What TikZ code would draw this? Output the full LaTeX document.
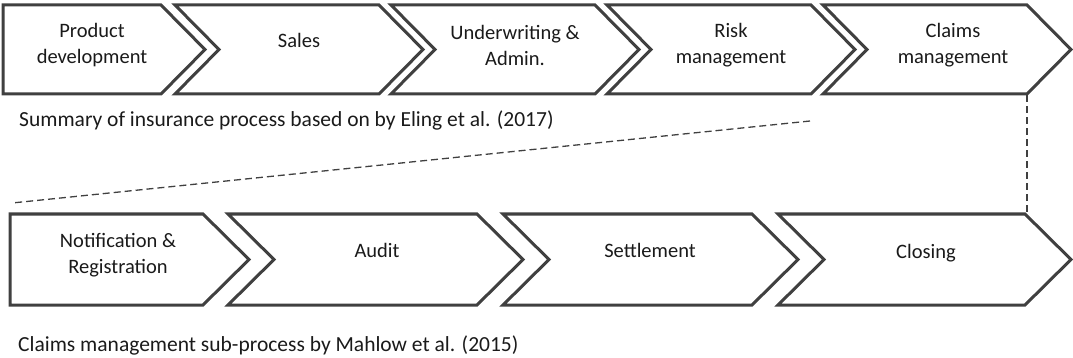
\documentclass[tikz,border=0pt]{standalone}
\usepackage{fontspec}
\setmainfont{Carlito}
\definecolor{edge}{HTML}{404040}
\definecolor{ink}{HTML}{1A1A1A}
\begin{document}
\begin{tikzpicture}[x=1pt,y=-1pt,
  chev/.style={draw=edge,line width=3pt,line join=miter,fill=white},
  lbl/.style={inner sep=0pt,align=center,text=ink,font=\fontsize{20.5}{26}\selectfont},
  captext/.style={inner sep=0pt,anchor=base west,text=ink,font=\fontsize{21.5}{26}\selectfont},
  link/.style={draw=edge,line width=1.3pt,dash pattern=on 7pt off 4pt}]
\useasboundingbox (0,0) rectangle (1073,358);

% ---- main insurance process (top row) ----
\draw[chev] (3,5) -- (161,5) -- (205,49.5) -- (161,94) -- (3,94) -- cycle;
\draw[chev] (175,5) -- (379,5) -- (423,49.5) -- (379,94) -- (175,94) -- (219,49.5) -- cycle;
\draw[chev] (391,5) -- (595,5) -- (639,49.5) -- (595,94) -- (391,94) -- (435,49.5) -- cycle;
\draw[chev] (607,5) -- (811,5) -- (855,49.5) -- (811,94) -- (607,94) -- (651,49.5) -- cycle;
\draw[chev] (823,5) -- (1027,5) -- (1071,49.5) -- (1027,94) -- (823,94) -- (867,49.5) -- cycle;

\node[lbl] (pd) at (92,45) {Product\\development};
\node[lbl,anchor=base] (sales) at (299,48) {Sales};
\node[lbl] (uw) at (515,45) {Underwriting \&\\Admin.};
\node[lbl] (risk) at (731,45) {Risk\\management};
\node[lbl] (claims) at (953,45) {Claims\\management};

\node[captext] (sum) at (19,127) {Summary of insurance process based on by Eling et al. (2017)};

% ---- claims management sub-process (bottom row) ----
\draw[chev] (10,214) -- (203,214) -- (249,259.5) -- (203,305) -- (10,305) -- cycle;
\draw[chev] (228,214) -- (477,214) -- (523,259.5) -- (477,305) -- (228,305) -- (274,259.5) -- cycle;
\draw[chev] (503,214) -- (752,214) -- (798,259.5) -- (752,305) -- (503,305) -- (549,259.5) -- cycle;
\draw[chev] (778,214) -- (1025,214) -- (1071,259.5) -- (1025,305) -- (778,305) -- (824,259.5) -- cycle;

\node[lbl] (notif) at (118,255) {Notification \&\\Registration};
\node[lbl,anchor=base] (audit) at (377,257) {Audit};
\node[lbl,anchor=base] (settle) at (650,257) {Settlement};
\node[lbl,anchor=base] (closing) at (926,258) {Closing};

\node[captext] (sub) at (18,351) {Claims management sub-process by Mahlow et al. (2015)};

% ---- zoom-in guide lines ----
\coordinate (zoomA) at (810,121);
\coordinate (zoomB) at (12,203);
\coordinate (claimsCorner) at (1027,95.5);
\coordinate (closingCorner) at (1027,212.5);
\draw[link] (zoomA) -- (zoomB);
\draw[link] (claimsCorner) -- (closingCorner);
\end{tikzpicture}
\end{document}
